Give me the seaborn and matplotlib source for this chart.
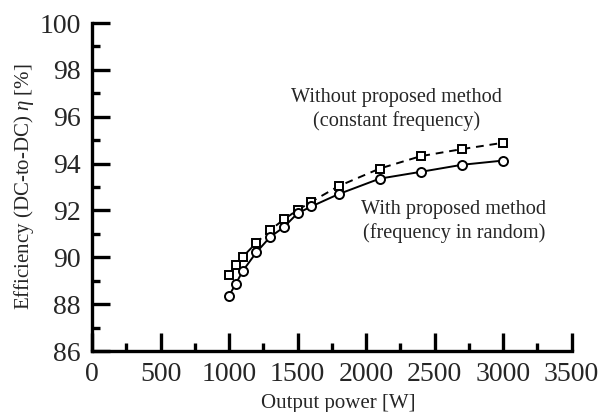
import matplotlib
matplotlib.use("Agg")
import matplotlib.pyplot as plt
import seaborn as sns
import pandas as pd
from matplotlib.ticker import MultipleLocator

# Output power [W] and measured DC-to-DC efficiency [%]
power = [1000, 1050, 1100, 1200, 1300, 1400, 1500, 1600, 1800, 2100, 2400, 2700, 3000]
eff_with = [88.37, 88.88, 89.42, 90.22, 90.87, 91.29, 91.88, 92.17, 92.70, 93.36, 93.65, 93.95, 94.13]
eff_without = [89.26, 89.66, 90.02, 90.63, 91.16, 91.62, 92.02, 92.37, 93.04, 93.79, 94.32, 94.62, 94.89]

x_ticks = [0, 500, 1000, 1500, 2000, 2500, 3000, 3500]
y_ticks = [86, 88, 90, 92, 94, 96, 98, 100]

sns.set_theme(style="ticks")
plt.rcParams["font.family"] = ["Liberation Serif", "DejaVu Serif"]
plt.rcParams["mathtext.fontset"] = "custom"
plt.rcParams["mathtext.it"] = "Liberation Serif:italic"
plt.rcParams["mathtext.rm"] = "Liberation Serif"

df = pd.DataFrame({"power": power, "with": eff_with, "without": eff_without})

fig = plt.figure(figsize=(6.1, 4.12), dpi=100)
ax = fig.add_axes([0.151, 0.148, 0.786, 0.796])

sns.lineplot(data=df, x="power", y="without", ax=ax, color="black", lw=1.4,
             linestyle=(0, (4, 3)), marker="s", markersize=6,
             markerfacecolor="white", markeredgecolor="black", markeredgewidth=1.4)
sns.lineplot(data=df, x="power", y="with", ax=ax, color="black", lw=1.4,
             marker="o", markersize=6.5,
             markerfacecolor="white", markeredgecolor="black", markeredgewidth=1.4)

ax.set_xlim(0, 3500)
ax.set_ylim(86, 100)
ax.set_xticks(x_ticks)
ax.set_yticks(y_ticks)
ax.xaxis.set_minor_locator(MultipleLocator(250))
ax.yaxis.set_minor_locator(MultipleLocator(1))

for side in ["top", "right"]:
    ax.spines[side].set_visible(False)
for side in ["left", "bottom"]:
    ax.spines[side].set_linewidth(2.4)
    ax.spines[side].set_color("black")

ax.tick_params(which="major", direction="in", length=13, width=2.4,
               labelsize=20, color="black")
ax.tick_params(axis="x", which="major", pad=8)
ax.tick_params(axis="y", which="major", pad=8)
ax.tick_params(which="minor", direction="in", length=6, width=2.4, color="black")

ax.set_xlabel("Output power [W]", fontsize=15)
ax.set_ylabel(r"Efficiency (DC-to-DC) $\it{\eta}$ [%]", fontsize=15)
ax.xaxis.set_label_coords(0.5125, -0.13)
ax.yaxis.set_label_coords(-0.118, 0.5)

ax.text(2220, 96.3, "Without proposed method\n(constant frequency)",
        ha="center", va="center", fontsize=14.6, linespacing=1.25)
ax.text(2640, 91.53, "With proposed method\n(frequency in random)",
        ha="center", va="center", fontsize=14.6, linespacing=1.25)

fig.savefig("out.png", dpi=100)
